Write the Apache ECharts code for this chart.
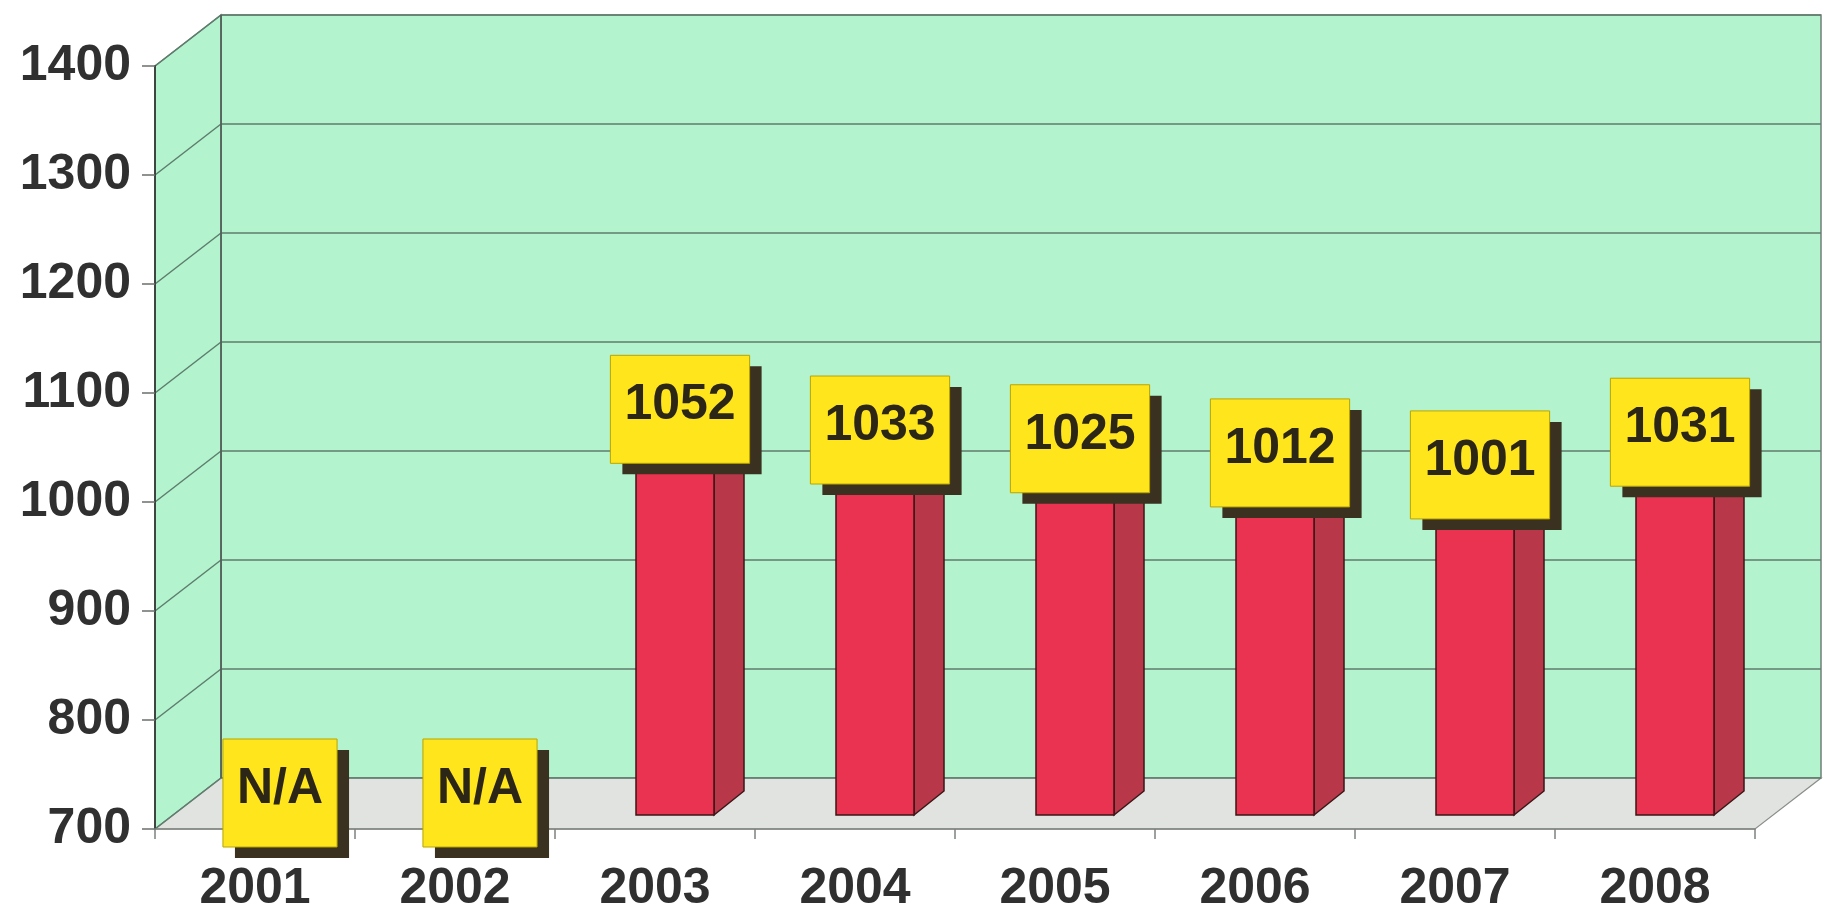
<!DOCTYPE html>
<html>
<head>
<meta charset="utf-8">
<style>
html,body{margin:0;padding:0;background:#ffffff;}
#chart{width:1834px;height:914px;}
</style>
<script src="https://cdn.jsdelivr.net/npm/echarts@6/dist/echarts.min.js"></script>
</head>
<body>
<div id="chart"></div>
<script>
// ---- data ----
const years = ['2001', '2002', '2003', '2004', '2005', '2006', '2007', '2008'];
const values = [null, null, 1052, 1033, 1025, 1012, 1001, 1031];
const missingLabel = 'N/A';
const yMin = 700, yMax = 1400, yStep = 100;
const yTicks = [700, 800, 900, 1000, 1100, 1200, 1300, 1400];

// ---- style constants ----
const DX = 66, DY = 51;            // depth of the 3D box
const BAR_OFF_X = 20, BAR_OFF_Y = 14; // bar front face depth shift
const SIDE_X = 30, SIDE_Y = 24;     // bar thickness in depth
const LABEL_FONT = 'bold 50px "Liberation Sans", Arial, sans-serif';

const chart = echarts.init(document.getElementById('chart'));

const measureCtx = document.createElement('canvas').getContext('2d');
measureCtx.font = LABEL_FONT;

const barData = [];
values.forEach((v, i) => { if (v != null) barData.push([i, v]); });
const labelData = values.map((v, i) => [i, v == null ? yMin : v, v == null ? missingLabel : String(v)]);

function wallsRender(params, api) {
  const cs = params.coordSys;
  const x0 = cs.x, x1 = cs.x + cs.width, yT = cs.y, yB = cs.y + cs.height;
  const green = '#b3f4cf', floor = '#e1e3e1', line = '#5f7d6e';
  const children = [];
  children.push({type: 'rect', shape: {x: x0 + DX, y: yT - DY, width: x1 - x0, height: yB - yT},
    style: {fill: green, stroke: '#6f7f77', lineWidth: 1.5}});
  children.push({type: 'polygon', shape: {points: [[x0, yT], [x0 + DX, yT - DY], [x0 + DX, yB - DY], [x0, yB]]},
    style: {fill: green, stroke: '#6f7f77', lineWidth: 1.5}});
  children.push({type: 'polygon', shape: {points: [[x0, yB], [x1, yB], [x1 + DX, yB - DY], [x0 + DX, yB - DY]]},
    style: {fill: floor, stroke: '#8a8f8a', lineWidth: 1.2}});
  yTicks.forEach(v => {
    const y = api.coord([0, v])[1];
    children.push({type: 'line', shape: {x1: x0 + DX, y1: y - DY, x2: x1 + DX, y2: y - DY},
      style: {stroke: line, lineWidth: 1.5}});
    children.push({type: 'line', shape: {x1: x0, y1: y, x2: x0 + DX, y2: y - DY},
      style: {stroke: line, lineWidth: 1.5}});
  });
  children.push({type: 'line', shape: {x1: x0 + DX, y1: yT - DY, x2: x0 + DX, y2: yB - DY},
    style: {stroke: '#4f5a55', lineWidth: 1.5}});
  return {type: 'group', children: children};
}

function barRender(params, api) {
  const i = api.value(0), v = api.value(1);
  const p = api.coord([i, v]);
  const b = api.coord([i, yMin]);
  const w = api.size([1, 0])[0] * 0.39;
  const cx = p[0] + BAR_OFF_X;
  const top = p[1] - BAR_OFF_Y, bot = b[1] - BAR_OFF_Y;
  const l = cx - w / 2, r = cx + w / 2;
  const stroke = '#3d1616';
  return {type: 'group', children: [
    {type: 'polygon', shape: {points: [[r, top], [r + SIDE_X, top - SIDE_Y], [r + SIDE_X, bot - SIDE_Y], [r, bot]]},
      style: {fill: '#b8384a', stroke: stroke, lineWidth: 1.5}},
    {type: 'polygon', shape: {points: [[l, top], [l + SIDE_X, top - SIDE_Y], [r + SIDE_X, top - SIDE_Y], [r, top]]},
      style: {fill: '#d9485e', stroke: stroke, lineWidth: 1.5}},
    {type: 'rect', shape: {x: l, y: top, width: w, height: bot - top},
      style: {fill: '#ea3350', stroke: stroke, lineWidth: 1.5}}
  ]};
}

function labelRender(params, api) {
  const i = api.value(0), v = api.value(1);
  const txt = labelData[params.dataIndex][2];
  const p = api.coord([i, v]);
  const cx = p[0] + 25, cy = p[1] - 36;
  const tw = measureCtx.measureText(txt).width;
  const bw = tw + 28, bh = 108;
  const bx = cx - bw / 2, by = cy - bh / 2;
  return {type: 'group', children: [
    {type: 'rect', shape: {x: bx + 12, y: by + 11, width: bw, height: bh}, style: {fill: '#3a3120'}},
    {type: 'rect', shape: {x: bx, y: by, width: bw, height: bh}, style: {fill: '#ffe51c', stroke: '#b8a400', lineWidth: 1}},
    {type: 'text', style: {text: txt, x: cx, y: cy - 4, align: 'center', verticalAlign: 'middle',
      font: LABEL_FONT, fill: '#2c2616'}}
  ]};
}

chart.setOption({
  backgroundColor: '#ffffff',
  animation: false,
  grid: {left: 155, right: 79, top: 66, bottom: 84, containLabel: false},
  xAxis: {
    type: 'category', data: years, z: 3,
    axisLine: {show: true, lineStyle: {color: '#7d827d', width: 1.5}},
    axisTick: {show: true, alignWithLabel: false, length: 10, lineStyle: {color: '#7d827d', width: 1.5}},
    axisLabel: {fontSize: 50, fontWeight: 'bold', fontFamily: '"Liberation Sans", Arial, sans-serif',
      color: '#303030', margin: 35},
    splitLine: {show: false}
  },
  yAxis: {
    type: 'value', min: yMin, max: yMax, interval: yStep, z: 3,
    axisLine: {show: true, lineStyle: {color: '#3f4642', width: 2}},
    axisTick: {show: true, length: 13, lineStyle: {color: '#6a706c', width: 1.5}},
    axisLabel: {fontSize: 50, fontWeight: 'bold', fontFamily: '"Liberation Sans", Arial, sans-serif',
      color: '#303030', margin: 24,
      formatter: function (val) { return yTicks.indexOf(val) >= 0 ? String(val) : ''; }},
    splitLine: {show: false}
  },
  series: [
    {type: 'custom', name: 'walls', z: 1, data: [[0, yMin]], renderItem: wallsRender, silent: true},
    {type: 'custom', name: 'bars', z: 4, data: barData, renderItem: barRender},
    {type: 'custom', name: 'labels', z: 5, data: labelData.map(d => [d[0], d[1]]), renderItem: labelRender}
  ]
});
</script>
</body>
</html>
